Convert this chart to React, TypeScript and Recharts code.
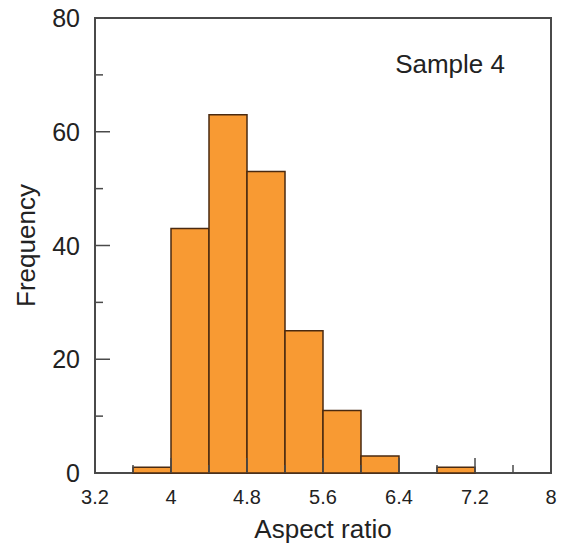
import React from "react";
import { Bar, ComposedChart, Label, ReferenceArea, XAxis, YAxis } from "recharts";

// histogram bins (left edge, width 0.4) and their counts
const binStarts = [3.6, 4.0, 4.4, 4.8, 5.2, 5.6, 6.0, 6.4, 6.8];
const counts = [1, 43, 63, 53, 25, 11, 3, 0, 1];
const binWidth = 0.4;

const xTicks = [3.2, 3.6, 4, 4.4, 4.8, 5.2, 5.6, 6, 6.4, 6.8, 7.2, 7.6, 8];
const xMajor = [3.2, 4, 4.8, 5.6, 6.4, 7.2, 8];
const yTicks = [0, 10, 20, 30, 40, 50, 60, 70, 80];
const yMajor = [0, 20, 40, 60, 80];

const data = binStarts.map((start, i) => ({ x: +(start + binWidth / 2).toFixed(2), count: counts[i] }));

const font = "'Liberation Sans', Arial, Helvetica, sans-serif";
const ink = "#222";
const frame = "#4a4a4a";

function XTick({ x, y, payload }: any) {
  const major = xMajor.includes(payload.value);
  return <g>
    <line x1={x} y1={y} x2={x} y2={y - (major ? 15 : 8)} stroke={frame} strokeWidth={1.5}/>
    {major ? <text x={x} y={y + 31} textAnchor="middle" fontSize={20} fill={ink} fontFamily={font}>{payload.value}</text> : null}
  </g>;
}

function YTick({ x, y, payload }: any) {
  const major = yMajor.includes(payload.value);
  return <g>
    <line x1={x} y1={y} x2={x + (major ? 15 : 8)} y2={y} stroke={frame} strokeWidth={1.5}/>
    {major ? <text x={x - 15} y={y + 9} textAnchor="end" fontSize={25} fill={ink} fontFamily={font}>{payload.value}</text> : null}
  </g>;
}

export default function App() {
  return <div style={{ position: "absolute", left: 0, top: 0, width: 564, height: 546, background: "#fff" }}>
    <ComposedChart width={564} height={546} data={data} barCategoryGap={0} margin={{ top: 18, right: 13, left: 0, bottom: 0 }}>
      <XAxis dataKey="x" type="number" domain={[3.2, 8]} ticks={xTicks} interval={0} height={73}
        axisLine={false} tickLine={false} tickSize={0} tickMargin={0} tick={<XTick/>}>
        <Label content={({ viewBox }: any) => <text x={viewBox.x + viewBox.width / 2} y={viewBox.y + 65} textAnchor="middle" fontSize={26} fill={ink} fontFamily={font}>Aspect ratio</text>}/>
      </XAxis>
      <YAxis type="number" domain={[0, 80]} ticks={yTicks} interval={0} width={95}
        axisLine={false} tickLine={false} tickSize={0} tickMargin={0} tick={<YTick/>}>
        <Label content={({ viewBox }: any) => {
          const cx = viewBox.x + 26;
          const cy = viewBox.y + viewBox.height / 2;
          return <text x={cx} y={cy} transform={`rotate(-90, ${cx}, ${cy})`} textAnchor="middle" dominantBaseline="central" fontSize={26} fill={ink} fontFamily={font}>Frequency</text>;
        }}/>
      </YAxis>
      <Bar dataKey="count" fill="#F89A33" stroke="#4a2a10" strokeWidth={1.5} isAnimationActive={false}/>
      <ReferenceArea x1={3.2} x2={8} y1={0} y2={80} fill="none" stroke={frame} strokeWidth={2}
        label={({ viewBox }: any) => <text x={viewBox.x + viewBox.width - 46} y={viewBox.y + 55} textAnchor="end" fontSize={26} fill={ink} fontFamily={font}>Sample 4</text>}/>
    </ComposedChart>
  </div>;
}
